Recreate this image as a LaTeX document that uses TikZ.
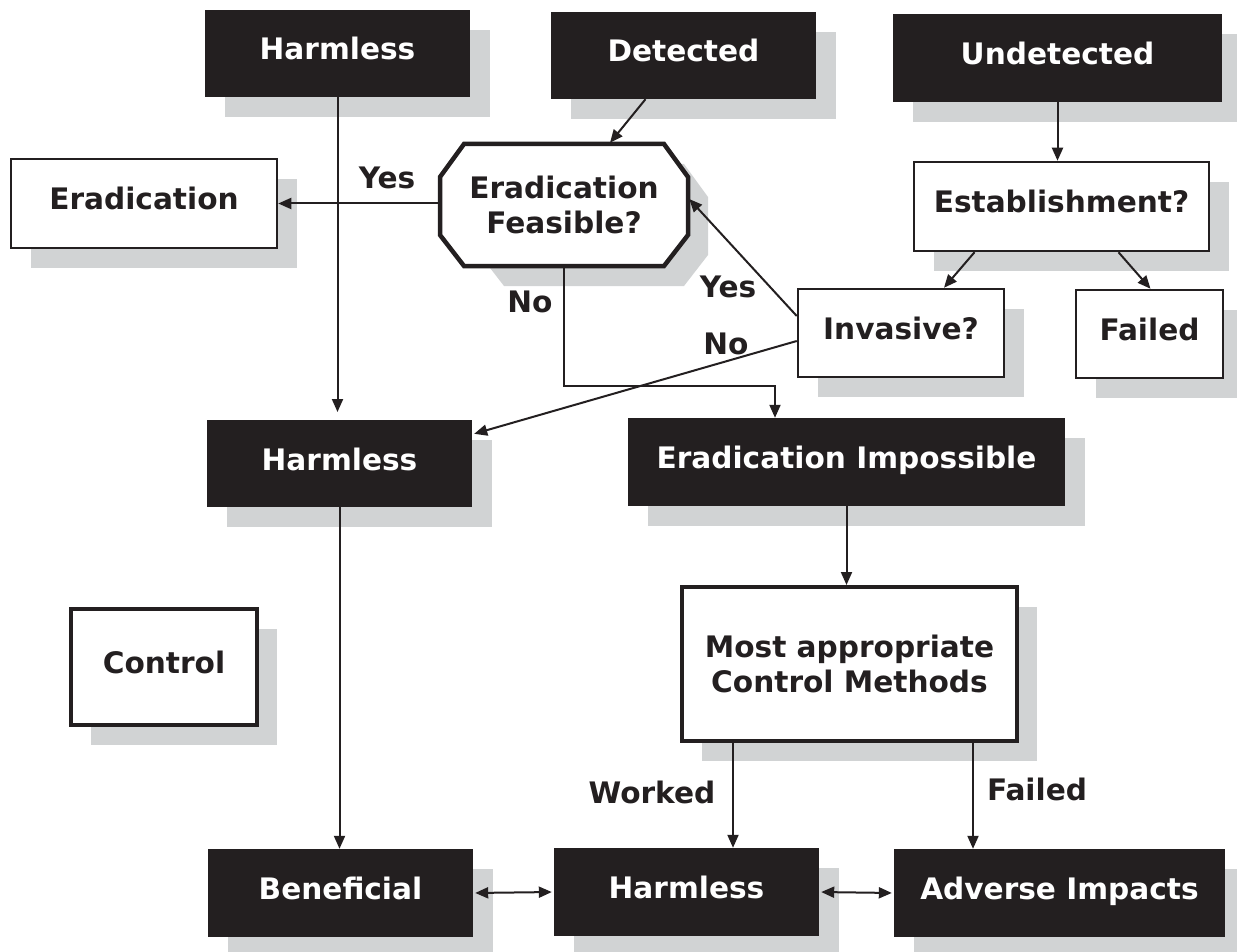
\documentclass[tikz,border=0pt]{standalone}
\usepackage{fontspec}
\setmainfont{DejaVu Sans}
\usetikzlibrary{shadows,arrows.meta,calc}
\definecolor{ink}{HTML}{231F20}
\definecolor{shadowc}{HTML}{D1D3D4}
\begin{document}
\begin{tikzpicture}[x=1pt,y=-1pt,
  every node/.style={font=\fontsize{29.6}{35}\selectfont\bfseries, text=ink, align=center},
  shad/.style={drop shadow={shadow xshift=20pt, shadow yshift=-20pt, fill=shadowc, opacity=1}},
  darkbox/.style={rectangle, fill=ink, text=white, shad, inner sep=0pt, text height=21pt, text depth=8pt},
  lightbox/.style={rectangle, draw=ink, fill=white, line width=2.5pt, shad, inner sep=0pt, text height=21pt, text depth=8pt},
  thickbox/.style={rectangle, draw=ink, fill=white, line width=4pt, shad, inner sep=0pt},
  octline/.style={draw=ink, fill=white, line width=4.5pt, line join=miter},
  arr/.style={draw=ink, line width=2pt, -{Triangle[length=13pt,width=11pt]}},
  darr/.style={draw=ink, line width=2pt, {Triangle[length=13pt,width=11pt]}-{Triangle[length=13pt,width=11pt]}, shorten <=2pt, shorten >=2pt},
  lbl/.style={inner sep=0pt}
]
\useasboundingbox (0,0) rectangle (1237,952);

% top row
\node[darkbox, minimum width=265pt, minimum height=87pt] (h1) at (337.5,53.5) {Harmless};
\node[darkbox, minimum width=265pt, minimum height=87pt] (det) at (683.5,55.5) {Detected};
\node[darkbox, minimum width=329pt, minimum height=88pt] (und) at (1057.5,58) {Undetected};

% second row
\node[lightbox, minimum width=266pt, minimum height=89pt] (erad) at (144,203.5) {Eradication};
% octagon: shadow, outline, then the text node
\fill[shadowc] (480,197) -- (504,164) -- (684,164) -- (708,197) -- (708,255) -- (684,286) -- (504,286) -- (480,255) -- cycle;
\path[octline] (440,177) -- (464,144) -- (664,144) -- (688,177) -- (688,235) -- (664,266) -- (464,266) -- (440,235) -- cycle;
\node[rectangle, inner sep=0pt, minimum width=248pt, minimum height=122pt] (feas) at (564,205) {Eradication\\Feasible?};
\node[lightbox, minimum width=295pt, minimum height=89pt] (est) at (1061.5,206.5) {Establishment?};
\node[lightbox, minimum width=206pt, minimum height=88pt] (inv) at (901,333) {Invasive?};
\node[lightbox, minimum width=147pt, minimum height=88pt] (fail1) at (1149.5,334) {Failed};

% middle
\node[darkbox, minimum width=265pt, minimum height=87pt] (h2) at (339.5,463.5) {Harmless};
\node[darkbox, minimum width=437pt, minimum height=88pt] (imp) at (846.5,462) {Eradication Impossible};
\node[thickbox, minimum width=186pt, minimum height=116pt, text height=21pt, text depth=8pt] (ctrl) at (164,667) {Control};
\node[thickbox, minimum width=335pt, minimum height=154pt] (meth) at (849.5,664) {Most appropriate\\Control Methods};

% bottom
\node[darkbox, minimum width=265pt, minimum height=88pt] (ben) at (340.5,893) {Beneficial};
\node[darkbox, minimum width=265pt, minimum height=88pt] (h3) at (686.5,892) {Harmless};
\node[darkbox, minimum width=331pt, minimum height=88pt] (adv) at (1059.5,893) {Adverse Impacts};

% connectors
\coordinate (h1end) at (337.5,412);
\draw[arr] (h1.south) -- (h1end);
\draw[arr] (feas.west |- erad.east) -- (erad.east);
\draw[arr] ($(det.south)+(-38,0)$) -- ($(feas.north)+(46,-1)$);
\coordinate (nobend) at (775,386);
\draw[arr] (feas.south) -- (feas.south |- nobend) -- (nobend) -- (nobend |- imp.north);
\draw[arr] ($(inv.west)+(0,-17)$) -- ($(feas.east)+(1,-6)$);
\draw[arr] ($(inv.west)+(0,8)$) -- ($(h2.north east)+(2,14)$);
\draw[arr] (und.south) -- (und.south |- est.north);
\draw[arr] ($(est.south)+(-87,0)$) -- ($(inv.north)+(43,0)$);
\draw[arr] ($(est.south)+(57,0)$) -- ($(fail1.north)+(1,0)$);
\draw[arr] (h2.south) -- (h2.south |- ben.north);
\draw[arr] (imp.south) -- (imp.south |- meth.north);
\coordinate (mw) at ($(meth.south)+(-116.5,0)$);
\coordinate (me) at ($(meth.south)+(123.5,0)$);
\draw[arr] (mw) -- (mw |- h3.north);
\draw[arr] (me) -- (me |- adv.north);
\draw[darr] (ben.east) -- (h3.west);
\draw[darr] (h3.east) -- (adv.west);

% labels
\node[lbl] (l1) at (387,178) {Yes};
\node[lbl] (l2) at (530,302) {No};
\node[lbl] (l3) at (728,287) {Yes};
\node[lbl] (l4) at (726,344) {No};
\node[lbl] (l5) at (652,792) {Worked};
\node[lbl] (l6) at (1037,789) {Failed};
\end{tikzpicture}
\end{document}
